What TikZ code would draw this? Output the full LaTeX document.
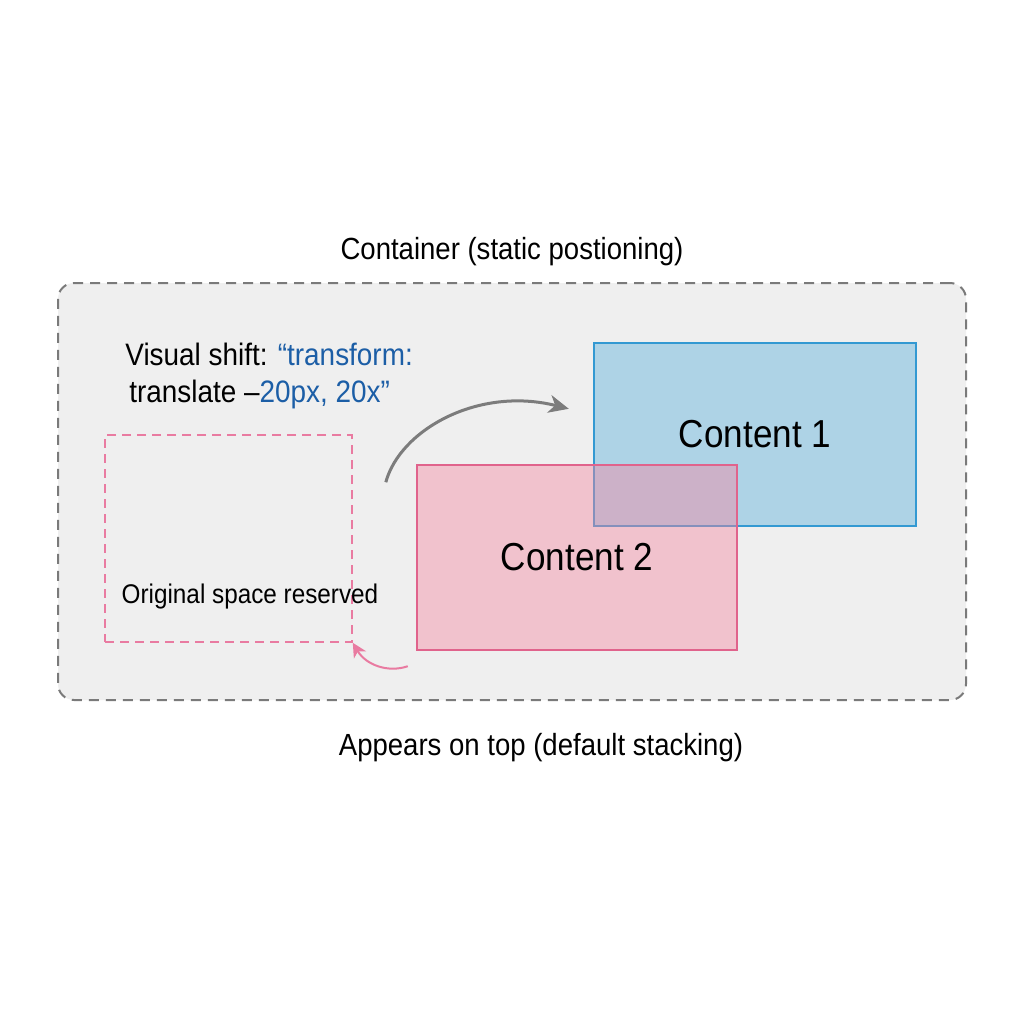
\documentclass[tikz,border=0pt]{standalone}
\usepackage{fontspec}
\setmainfont[FakeStretch=0.9]{Liberation Sans}
\usetikzlibrary{positioning,arrows.meta}
\definecolor{boxgray}{HTML}{EFEFEF}
\definecolor{dashgray}{HTML}{7A7A7A}
\definecolor{arrowgray}{HTML}{7C7C7C}
\definecolor{oneblue}{HTML}{AED3E6}
\definecolor{onebluedark}{HTML}{3399D2}
\definecolor{twopink}{HTML}{F6849F}
\definecolor{twopinkdark}{HTML}{E0638C}
\definecolor{origpink}{HTML}{E97BA1}
\definecolor{shiftblue}{HTML}{1C5EA6}

\begin{document}
\begin{tikzpicture}[x=0.5pt,y=-0.5pt,
  frame/.style={draw=dashgray,fill=boxgray,line width=1pt,dash pattern=on 5pt off 3.5pt,
    rounded corners=8pt,inner sep=0pt,minimum width=454pt,minimum height=208.5pt},
  reserved/.style={draw=origpink,line width=0.8pt,dash pattern=on 4.5pt off 3pt,
    inner sep=0pt,minimum width=123.5pt,minimum height=103.5pt},
  content/.style={line width=1.2pt,inner sep=0pt,font=\fontsize{19.5}{22}\selectfont},
  caption/.style={font=\fontsize{15.3}{18}\selectfont},
  note/.style={font=\fontsize{13.5}{18.5}\selectfont,align=left,inner sep=0pt}]
  \useasboundingbox[fill=white] (0,0) rectangle (1024,1024);

  \node[frame]    (container) at (512,491.5) {};
  \node[caption]  (title)   at (512,252) {Container (static postioning)};
  \node[caption]  (stack)   at (541,748) {Appears on top (default stacking)};

  \node[note,anchor=west,font=\fontsize{15.5}{18.5}\selectfont] (shift) at (125,376)
    {Visual shift: \textcolor{shiftblue}{“transform:}\\
     \hspace{2pt}translate –\textcolor{shiftblue}{20px, 20x”}};
  \node[reserved] (orig) at (228.5,538.5) {};
  \node[note]     (origtext) at (250,597) {Original space reserved};

  \node[content,draw=onebluedark,fill=oneblue,minimum width=161pt,minimum height=91.5pt]
    (content1) at (755,434.5) {Content 1};
  \node[content,draw=twopinkdark,fill=twopink,fill opacity=0.42,draw opacity=1,text opacity=1,
    minimum width=160pt,minimum height=92.5pt]
    (content2) at (577,557.5) {Content 2};

  \coordinate (shiftstart) at ([xshift=16.5pt,yshift=-24pt]orig.north east);
  \coordinate (shiftend)   at ([xshift=-12pt,yshift=-33.5pt]content1.north west);
  \coordinate (backstart)  at ([xshift=-4pt,yshift=-7.5pt]content2.south west);

  \draw[-{Stealth[length=10pt,width=9pt,inset=3pt]},arrowgray,line width=1.5pt]
    (shiftstart) .. controls (400,430) and (478,386) .. (shiftend);
  \draw[-{Stealth[length=7pt,width=7pt,inset=2pt]},origpink,line width=1pt]
    (backstart) .. controls (388,673) and (366,665) .. (orig.south east);
\end{tikzpicture}
\end{document}
